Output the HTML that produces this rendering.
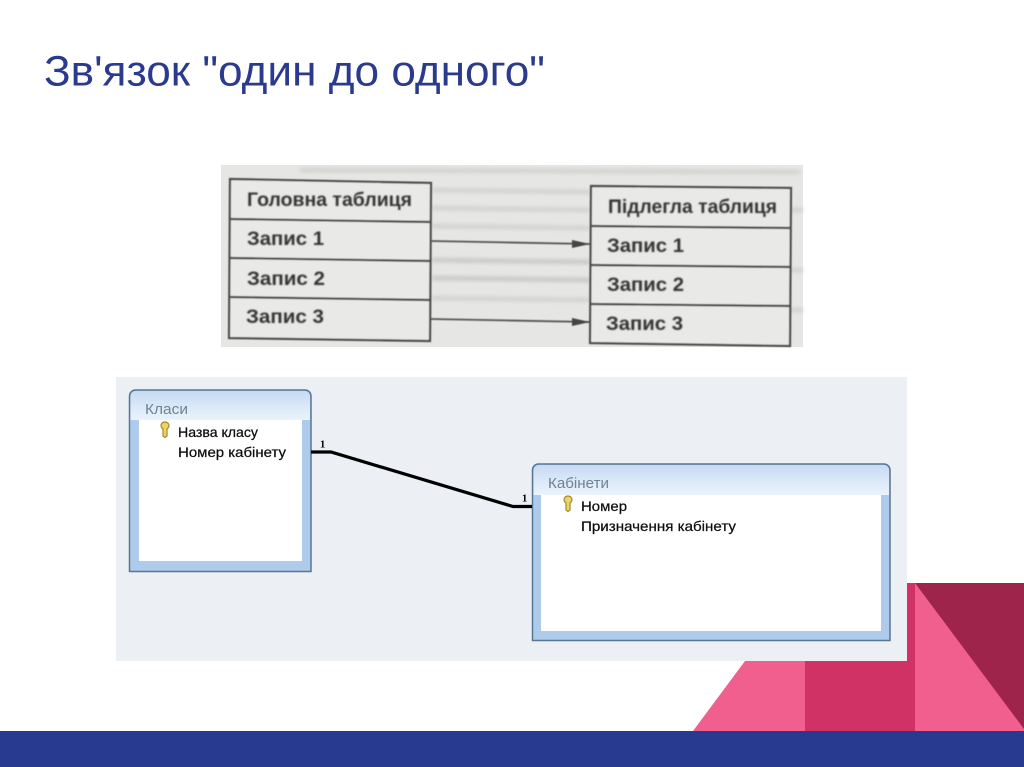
<!DOCTYPE html>
<html><head><meta charset="utf-8">
<style>html,body{margin:0;padding:0;background:#fff}svg{display:block}text{font-family:"Liberation Sans","Noto Sans CJK JP",sans-serif}</style>
</head><body>
<svg width="1024" height="767" viewBox="0 0 1024 767" xmlns="http://www.w3.org/2000/svg">
<defs>
<filter id="b1" x="-5%" y="-5%" width="110%" height="110%"><feGaussianBlur stdDeviation="0.65"/></filter>
<filter id="bt" x="-5%" y="-20%" width="110%" height="140%"><feGaussianBlur stdDeviation="0.8"/></filter>
<filter id="b2" x="-5%" y="-20%" width="110%" height="140%"><feGaussianBlur stdDeviation="2.2"/></filter>
<filter id="b3" x="-5%" y="-20%" width="110%" height="140%"><feGaussianBlur stdDeviation="0.3"/></filter>
<linearGradient id="tb" x1="0" y1="0" x2="0" y2="1"><stop offset="0" stop-color="#c6daf3"/><stop offset="0.5" stop-color="#d9e8f8"/><stop offset="1" stop-color="#eaf3fc"/></linearGradient>
</defs>
<rect width="1024" height="767" fill="#fff"/>
<text x="44" y="85.500" font-size="43" fill="#2a3a8c" textLength="501" lengthAdjust="spacingAndGlyphs">Зв'язок "один до одного"</text>

<!-- decorative -->
<rect x="0" y="731" width="1024" height="36" fill="#283a90"/>
<polygon points="693,731 745,661 805,661 805,731" fill="#f05f8e"/>
<rect x="805" y="661" width="110" height="70" fill="#d13265"/>
<rect x="900" y="583" width="15" height="80" fill="#d13265"/>
<rect x="915" y="583" width="109" height="148" fill="#9e244c"/>
<polygon points="915,583 1024,729 1024,731 915,731" fill="#f05f8e"/>

<!-- scan -->
<rect x="221" y="165" width="582" height="182" fill="#e6e6e4"/>
<g filter="url(#b2)" stroke="#c4c4c2" stroke-width="3" opacity="0.9">
<line x1="300" y1="170" x2="800" y2="172"/>
<line x1="432" y1="190" x2="590" y2="192"/>
<line x1="432" y1="208" x2="590" y2="210"/>
<line x1="432" y1="226" x2="590" y2="228"/>
<line x1="432" y1="260" x2="590" y2="262" stroke="#b4b4b2"/>
<line x1="432" y1="278" x2="590" y2="280" stroke="#b4b4b2"/>
<line x1="432" y1="298" x2="590" y2="300"/>
<line x1="790" y1="210" x2="803" y2="210"/>
<line x1="790" y1="270" x2="803" y2="270"/>
<line x1="790" y1="310" x2="803" y2="310"/>
</g>
<g filter="url(#b1)">
<polygon points="230,179 431,183 430,341 229,338" fill="#e9e9e7" stroke="#4c4c4c" stroke-width="2.200"/>
<line x1="230" y1="219" x2="431" y2="222" stroke="#484848" stroke-width="2.200"/>
<line x1="230" y1="258" x2="431" y2="261" stroke="#484848" stroke-width="2.200"/>
<line x1="229" y1="297" x2="430" y2="300" stroke="#484848" stroke-width="2.200"/>
<polygon points="591,186 791,188 790,346 590,343" fill="#e9e9e7" stroke="#4c4c4c" stroke-width="2.200"/>
<line x1="591" y1="226" x2="791" y2="228" stroke="#484848" stroke-width="2.200"/>
<line x1="591" y1="265" x2="791" y2="267" stroke="#484848" stroke-width="2.200"/>
<line x1="590" y1="304" x2="790" y2="306" stroke="#484848" stroke-width="2.200"/>
<line x1="431" y1="241" x2="590" y2="244" stroke="#555" stroke-width="1.800"/>
<polygon points="572,240 590,244 572,248" fill="#444"/>
<line x1="431" y1="319" x2="590" y2="322" stroke="#555" stroke-width="1.800"/>
<polygon points="572,318 590,322 572,326" fill="#444"/>
</g>
<g filter="url(#bt)" font-size="19" fill="#333" font-weight="bold">
<text x="247" y="206" textLength="165" lengthAdjust="spacingAndGlyphs">Головна таблиця</text>
<text x="247" y="245" textLength="77" lengthAdjust="spacingAndGlyphs">Запис 1</text>
<text x="247" y="285" textLength="78" lengthAdjust="spacingAndGlyphs">Запис 2</text>
<text x="246" y="323" textLength="78" lengthAdjust="spacingAndGlyphs">Запис 3</text>
<text x="608" y="213" textLength="169" lengthAdjust="spacingAndGlyphs">Підлегла таблиця</text>
<text x="607" y="252" textLength="77" lengthAdjust="spacingAndGlyphs">Запис 1</text>
<text x="607" y="291" textLength="77" lengthAdjust="spacingAndGlyphs">Запис 2</text>
<text x="606" y="330" textLength="77" lengthAdjust="spacingAndGlyphs">Запис 3</text>
</g>

<!-- access panel -->
<rect x="116" y="377" width="791" height="284" fill="#eceff3"/>

<!-- window 1 -->
<path d="M129.500 571.500V396a6 6 0 0 1 6-6H305a6 6 0 0 1 6 6V571.500Z" fill="#afcbec" stroke="#587693" stroke-width="1.500"/>
<path d="M130.500 397a6 6 0 0 1 6-6H304a6 6 0 0 1 6 6V420H130.500Z" fill="url(#tb)"/>
<rect x="139" y="420" width="163" height="141" fill="#fff"/>
<text x="145" y="414" font-size="14.500" fill="#6f8296" textLength="43" lengthAdjust="spacingAndGlyphs">Класи</text>
<g filter="url(#b3)" font-size="14" fill="#111" stroke="#111" stroke-width="0.250">
<text x="178" y="437" textLength="80" lengthAdjust="spacingAndGlyphs">Назва класу</text>
<text x="178" y="457" textLength="108" lengthAdjust="spacingAndGlyphs">Номер кабінету</text>
</g>
<g filter="url(#b3)">
<path d="M161 425.500a4 3.500 0 0 1 8 0c0 2-1.500 3-2 3.500V436l-2 1.500-2-1.500V429c-.5-.5-2-1.500-2-3.500Z" fill="#e9d36a" stroke="#a58a28" stroke-width="1.200"/>
</g>

<!-- window 2 -->
<path d="M532.500 640.500V470a6 6 0 0 1 6-6H884a6 6 0 0 1 6 6V640.500Z" fill="#afcbec" stroke="#587693" stroke-width="1.500"/>
<path d="M533.500 471a6 6 0 0 1 6-6H883a6 6 0 0 1 6 6V495H533.500Z" fill="url(#tb)"/>
<rect x="541" y="495" width="340" height="136" fill="#fff"/>
<text x="548" y="488" font-size="14.500" fill="#6f8296" textLength="61" lengthAdjust="spacingAndGlyphs">Кабінети</text>
<g filter="url(#b3)" font-size="14" fill="#111" stroke="#111" stroke-width="0.250">
<text x="581" y="511" textLength="46" lengthAdjust="spacingAndGlyphs">Номер</text>
<text x="581" y="531" textLength="155" lengthAdjust="spacingAndGlyphs">Призначення кабінету</text>
</g>
<g filter="url(#b3)">
<path d="M564 499.500a4 3.500 0 0 1 8 0c0 2-1.500 3-2 3.500V510l-2 1.500-2-1.500V503c-.5-.5-2-1.500-2-3.500Z" fill="#e9d36a" stroke="#a58a28" stroke-width="1.200"/>
</g>

<!-- relation -->
<polyline points="311,452 331,452 513,506.500 532,506.500" fill="none" stroke="#000" stroke-width="3.200"/>
<text x="320" y="447.500" font-size="10.500" font-weight="bold" fill="#000" style="font-family:'Liberation Serif',serif">1</text>
<text x="522" y="501.500" font-size="10.500" font-weight="bold" fill="#000" style="font-family:'Liberation Serif',serif">1</text>
</svg>
</body></html>
